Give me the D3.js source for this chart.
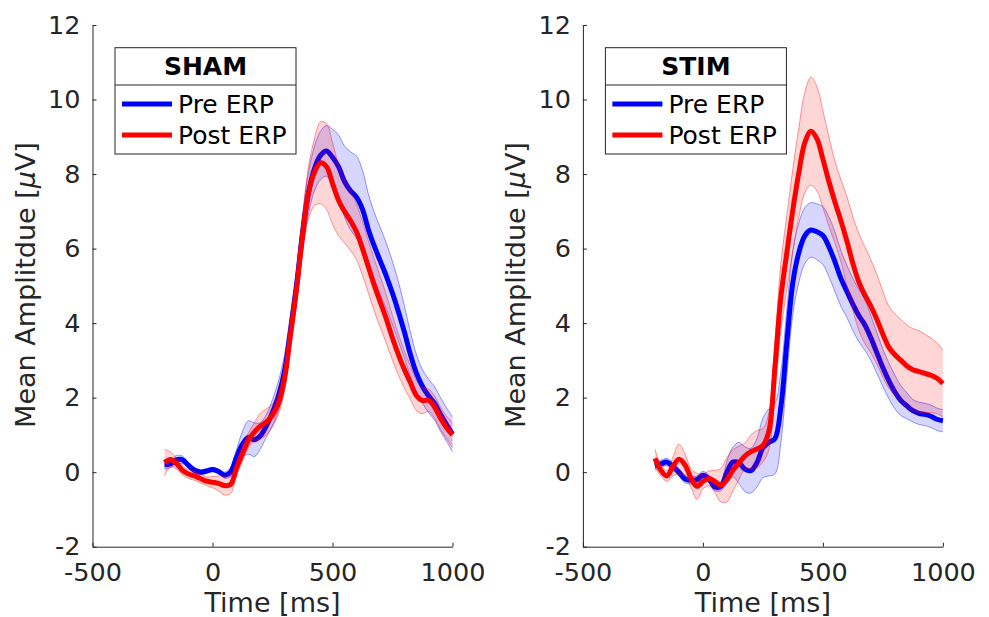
<!DOCTYPE html>
<html>
<head>
<meta charset="utf-8">
<script src="https://cdn.jsdelivr.net/npm/d3@7"></script>
<style>
  body { margin: 0; background: #fff; }
  svg { display: block; font-family: "DejaVu Sans", sans-serif; }
</style>
</head>
<body>
<svg id="chart" width="989" height="617"></svg>
<script>
// time axis of the ERP (ms)
var time = [-200,-175,-150,-125,-100,-75,-50,-25,0,25,50,75,100,125,150,175,200,225,250,275,300,325,350,375,400,425,450,475,500,525,550,575,600,625,650,675,700,725,750,775,800,825,850,875,900,925,950,975,1000];

var shamPreMean = [0.2,0.22,0.33,0.33,0.18,0.05,0.0,0.03,0.07,0.02,-0.08,0.0,0.4,0.75,0.93,0.87,0.98,1.25,1.6,2.05,2.7,3.8,5.0,6.4,7.5,8.15,8.5,8.62,8.45,8.2,7.8,7.55,7.38,7.05,6.5,6.05,5.65,5.25,4.8,4.3,3.75,3.15,2.65,2.3,2.05,1.85,1.55,1.28,1.02];
var shamPreSem = [0.12,0.1,0.12,0.1,0.08,0.08,0.07,0.06,0.06,0.06,0.08,0.12,0.2,0.35,0.45,0.45,0.35,0.3,0.35,0.4,0.45,0.45,0.45,0.5,0.55,0.6,0.65,0.68,0.75,0.85,0.95,1.05,1.1,1.05,0.95,0.9,0.9,0.88,0.85,0.8,0.7,0.6,0.5,0.45,0.45,0.45,0.45,0.45,0.47];
var shamPostMean = [0.26,0.34,0.23,0.05,-0.05,-0.1,-0.17,-0.24,-0.27,-0.3,-0.36,-0.33,0.1,0.5,0.86,1.08,1.24,1.35,1.53,1.85,2.5,3.7,4.9,6.35,7.5,8.05,8.3,8.2,7.75,7.3,7.0,6.75,6.45,6.0,5.5,5.0,4.55,4.1,3.6,3.15,2.75,2.4,2.05,1.92,1.93,1.75,1.45,1.2,1.0];
var shamPostSem = [0.35,0.2,0.15,0.12,0.12,0.12,0.12,0.12,0.15,0.2,0.25,0.25,0.2,0.2,0.2,0.25,0.35,0.35,0.3,0.3,0.3,0.35,0.4,0.5,0.7,0.9,1.1,1.15,1.1,0.95,0.85,0.8,0.75,0.72,0.7,0.7,0.68,0.65,0.6,0.55,0.5,0.45,0.4,0.35,0.3,0.3,0.3,0.3,0.33];

var stimPreMean = [0.17,0.22,0.27,0.15,0.0,-0.18,-0.22,-0.2,-0.08,-0.18,-0.4,-0.38,0.0,0.27,0.25,0.08,0.04,0.25,0.65,0.8,0.9,1.75,3.5,5.1,5.9,6.35,6.5,6.45,6.35,6.05,5.65,5.2,4.85,4.5,4.2,3.95,3.6,3.2,2.8,2.45,2.15,1.92,1.78,1.65,1.58,1.55,1.5,1.42,1.38];
var stimPreSem = [0.1,0.1,0.1,0.1,0.1,0.1,0.1,0.1,0.1,0.1,0.1,0.12,0.3,0.4,0.55,0.6,0.6,0.65,0.8,0.9,0.95,0.95,0.9,0.85,0.8,0.75,0.73,0.75,0.78,0.8,0.8,0.75,0.7,0.7,0.7,0.68,0.6,0.55,0.5,0.48,0.45,0.4,0.35,0.3,0.3,0.3,0.3,0.3,0.3];
var stimPostMean = [0.37,0.05,-0.1,0.15,0.35,0.2,-0.15,-0.38,-0.25,-0.17,-0.25,-0.35,-0.2,0.05,0.25,0.43,0.55,0.62,0.72,1.1,2.8,4.7,5.9,7.05,8.05,8.85,9.15,8.95,8.4,7.8,7.25,6.75,6.2,5.6,5.1,4.75,4.45,4.1,3.7,3.35,3.15,3.0,2.85,2.75,2.7,2.65,2.6,2.52,2.38];
var stimPostSem = [0.25,0.15,0.15,0.25,0.4,0.3,0.25,0.35,0.2,0.2,0.3,0.45,0.6,0.55,0.45,0.35,0.45,0.5,0.45,0.5,0.7,0.9,1.0,1.1,1.2,1.35,1.45,1.4,1.3,1.2,1.1,1.1,1.2,1.25,1.3,1.3,1.25,1.2,1.15,1.1,1.1,1.1,1.1,1.1,1.1,1.05,1.0,0.95,0.9];

var xTicks = [-500, 0, 500, 1000];
var yTicks = [-2, 0, 2, 4, 6, 8, 10, 12];
var seriesNames = ['Pre ERP', 'Post ERP'];
var panelTitles = ['SHAM', 'STIM'];

var axisColor = '#262626';
var colors = ['#0000ff', '#ff0000'];

var svg = d3.select('#chart');

var panels = [
  { title: panelTitles[0], left: 92.5, pre: [shamPreMean, shamPreSem], post: [shamPostMean, shamPostSem] },
  { title: panelTitles[1], left: 582.9, pre: [stimPreMean, stimPreSem], post: [stimPostMean, stimPostSem] }
];

var plotWidth = 360, plotTop = 25, plotBottom = 546.7;

panels.forEach(function(p) {
  var g = svg.append('g');
  var x = d3.scaleLinear().domain([-500, 1000]).range([p.left, p.left + plotWidth]);
  var y = d3.scaleLinear().domain([-2, 12]).range([plotBottom, plotTop]);

  var area = d3.area()
    .x(function(d, i) { return x(time[i]); })
    .y0(function(d) { return y(d[0] - d[1]); })
    .y1(function(d) { return y(d[0] + d[1]); })
    .curve(d3.curveCatmullRom.alpha(0.5));
  var edge = d3.line()
    .x(function(d, i) { return x(time[i]); })
    .y(function(d) { return y(d); })
    .curve(d3.curveCatmullRom.alpha(0.5));

  // shaded sem band + thin edges, then the mean line, pre first then post
  [p.pre, p.post].forEach(function(s, k) {
    var mean = s[0], sem = s[1];
    var pts = mean.map(function(m, i) { return [m, sem[i]]; });
    g.append('path').attr('d', area(pts))
      .attr('fill', colors[k]).attr('fill-opacity', 0.16).attr('stroke', 'none');
    g.append('path').attr('d', edge(mean.map(function(m, i) { return m + sem[i]; })))
      .attr('fill', 'none').attr('stroke', colors[k]).attr('stroke-opacity', 0.4).attr('stroke-width', 1);
    g.append('path').attr('d', edge(mean.map(function(m, i) { return m - sem[i]; })))
      .attr('fill', 'none').attr('stroke', colors[k]).attr('stroke-opacity', 0.4).attr('stroke-width', 1);
    g.append('path').attr('d', edge(mean))
      .attr('fill', 'none').attr('stroke', colors[k]).attr('stroke-width', 5)
      .attr('stroke-linejoin', 'round');
  });

  // axes, ticks pointing inward, no box
  var xAxis = g.append('g').attr('transform', 'translate(0,' + plotBottom + ')')
    .call(d3.axisBottom(x).tickValues(xTicks).tickFormat(String)
      .tickSizeInner(-4).tickSizeOuter(0).tickPadding(16.5));
  var yAxis = g.append('g').attr('transform', 'translate(' + p.left + ',0)')
    .call(d3.axisLeft(y).tickValues(yTicks).tickFormat(String)
      .tickSizeInner(-4).tickSizeOuter(0).tickPadding(12));
  [xAxis, yAxis].forEach(function(a) {
    a.select('.domain').attr('stroke', axisColor);
    a.selectAll('.tick line').attr('stroke', axisColor);
    a.selectAll('text').attr('fill', axisColor).style('font-size', '25.5px')
      .style('font-family', '"DejaVu Sans", sans-serif');
  });

  g.append('text')
    .attr('x', p.left + plotWidth / 2).attr('y', 611.5)
    .attr('text-anchor', 'middle').attr('fill', axisColor).style('font-size', '27px')
    .text('Time [ms]');

  var yl = g.append('text')
    .attr('transform', 'translate(' + (p.left - 58) + ',' + 285 + ') rotate(-90)')
    .attr('text-anchor', 'middle').attr('fill', axisColor).style('font-size', '27px');
  yl.append('tspan').text('Mean Amplitdue [');
  yl.append('tspan').style('font-style', 'italic').text('\u03bc');
  yl.append('tspan').text('V]');

  // legend
  var lx = p.left + 22.5, ly = 47.7, lw = 181, lh = 106.3;
  var lg = g.append('g');
  lg.append('rect').attr('x', lx).attr('y', ly).attr('width', lw).attr('height', lh)
    .attr('fill', '#fff').attr('stroke', axisColor).attr('stroke-width', 1);
  lg.append('line').attr('x1', lx).attr('x2', lx + lw).attr('y1', 85).attr('y2', 85)
    .attr('stroke', axisColor).attr('stroke-width', 1);
  lg.append('text').attr('x', lx + lw / 2).attr('y', 75).attr('text-anchor', 'middle')
    .style('font-size', '25px').style('font-weight', 'bold').attr('fill', '#000').text(p.title);
  seriesNames.forEach(function(name, k) {
    var yy = [104, 135][k];
    lg.append('line').attr('x1', lx + 7).attr('x2', lx + 57).attr('y1', yy).attr('y2', yy)
      .attr('stroke', colors[k]).attr('stroke-width', 5);
    lg.append('text').attr('x', lx + 63).attr('y', yy + 8.5)
      .style('font-size', '25px').attr('fill', '#000').text(name);
  });
});
</script>
</body>
</html>
